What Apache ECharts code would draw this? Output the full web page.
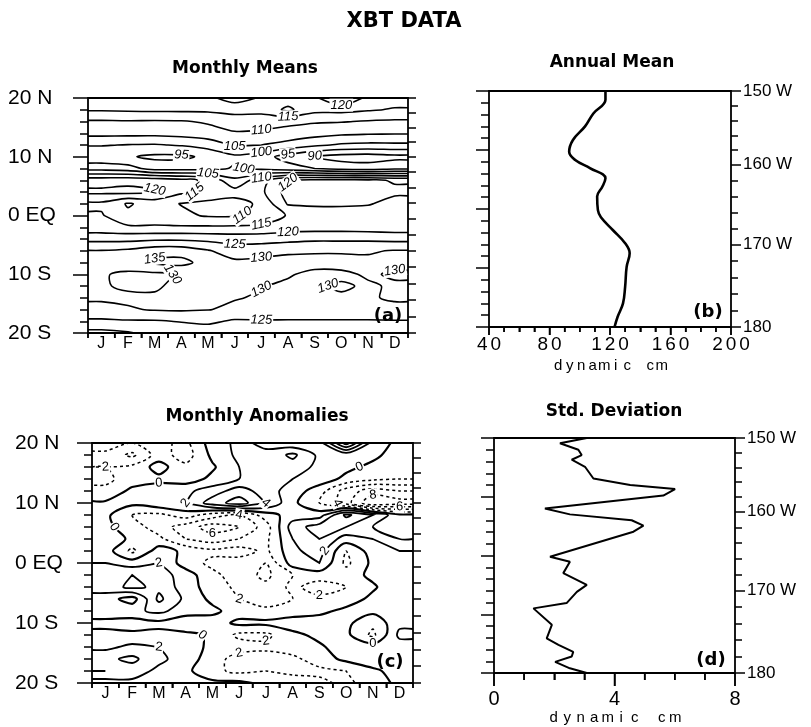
<!DOCTYPE html>
<html>
<head>
<meta charset="utf-8">
<script src="https://cdn.jsdelivr.net/npm/echarts@6/dist/echarts.min.js"></script>
<style>
  html, body { margin: 0; padding: 0; background: #fff; }
  #chart { width: 811px; height: 727px; }
</style>
</head>
<body>
<div id="chart"></div>
<script>
// ---------- axis vocabulary ----------
const months = ['J', 'F', 'M', 'A', 'M', 'J', 'J', 'A', 'S', 'O', 'N', 'D'];
const monthCentres = [0.5, 1.5, 2.5, 3.5, 4.5, 5.5, 6.5, 7.5, 8.5, 9.5, 10.5, 11.5];
const monthEdges = [0, 1, 2, 3, 4, 5, 6, 7, 8, 9, 10, 11, 12];
const latRows = [20, 18, 16, 14, 12, 10, 8, 6, 4, 2, 0, -2, -4, -6, -8, -10, -12, -14, -16, -18, -20];
const latTicks = [20, 10, 0, -10, -20];
const latNames = ['20 N', '10 N', '0 EQ', '10 S', '20 S'];
const lonNames = ['150 W', '160 W', '170 W', '180'];
const lonNameLat = [20, 7.5, -6, -20];   // latitude where the section crosses each meridian
const meanTicksMajor = [40, 80, 120, 160, 200];
const meanTicksMinor = [50, 60, 70, 90, 100, 110, 130, 140, 150, 170, 180, 190];
const sdTicksMajor = [0, 4, 8];
const sdTicksMinor = [1, 2, 3, 5, 6, 7];

// ---------- (a) monthly mean dynamic height (dyn cm), Jan..Dec per latitude ----------
const mean_20N = [117, 117.5, 117, 117, 119, 122, 119.5, 117.5, 119, 125.5, 118.5, 117];
const mean_18N = [115.5, 115.8, 116, 116, 116, 117, 117, 121, 116.5, 116.5, 115.5, 114.6];
const mean_16N = [109.4, 109.6, 109.4, 109.6, 110.6, 112, 111.5, 111, 110.5, 110.3, 109.6, 109.2];
const mean_14N = [106.5, 106.5, 106.5, 107, 108, 109.6, 109.4, 108.5, 107, 106, 105.6, 105.4];
const mean_12N = [100.3, 99.8, 99.6, 100.4, 102, 105.5, 105, 103, 101, 99.3, 98.8, 99];
const mean_10N = [96.5, 95.5, 94, 94, 96, 99, 97, 93, 89.5, 88, 87.5, 88.5];
const mean_8N  = [103, 102, 98, 98, 98.5, 100.5, 99, 97, 95, 93, 92.5, 94];
const mean_6N  = [118, 118.5, 118, 116.5, 114, 106, 113, 119.5, 121, 121.5, 121, 119.5];
const mean_4N  = [121, 121.5, 120.5, 116, 114, 112, 114, 122, 122.5, 122.5, 122, 121];
const mean_2N  = [114, 109.5, 112, 109.8, 108.5, 108, 111, 120.5, 121, 121, 120.5, 118];
const mean_EQ  = [115.5, 111, 112.5, 111, 109.5, 109.4, 111.5, 115.4, 116.5, 116.8, 116.5, 116];
const mean_2S  = [116.8, 115.8, 115.6, 115.6, 115.7, 115.8, 116.2, 117.5, 117.8, 117.8, 117.5, 117.2];
const mean_4S  = [123.5, 123.5, 124, 124, 123.5, 123, 123, 123.5, 124, 124, 124, 123.5];
const mean_6S  = [130.2, 131, 133, 133, 130.4, 127.5, 128, 129, 129.5, 129.5, 129.5, 130.3];
const mean_8S  = [132, 133, 136, 136.5, 133, 131, 131.5, 132, 131.5, 131.5, 131, 131];
const mean_10S = [130.5, 129, 129, 130.5, 131, 131, 131, 130.4, 129, 129.2, 130.5, 129.5];
const mean_12S = [130.5, 129.2, 129.5, 131, 131.5, 130.5, 130.2, 129.3, 129.5, 130.5, 129.5, 130.5];
const mean_14S = [130.5, 131, 130.5, 131, 131, 130.3, 129.5, 129.2, 129.2, 129.5, 129.6, 130.5];
const mean_16S = [129, 129.5, 130.4, 130.6, 130.2, 129, 128.5, 128.5, 128.5, 128.5, 128.5, 129];
const mean_18S = [124, 124.5, 124.5, 125.3, 126, 124.3, 124.6, 124.5, 124.5, 124.5, 124.5, 124.6];
const mean_20S = [118.5, 119.5, 121.5, 122, 122, 121, 123, 124, 124, 123.5, 123, 122];

// ---------- (c) monthly anomalies (dyn cm), Jan..Dec per latitude ----------
const anom_20N = [-1, -2, -1.5, -2.5, 1, 2.5, 1.5, 0.5, 1, 9, 1, -0.5];
const anom_18N = [-2.5, -4.5, -1, -3, 0.5, 2.5, 2.5, 4.5, 1.5, 0.5, 0.5, -1];
const anom_16N = [-2, -1.5, 0.8, -1.5, -0.3, 2, 2, 3, 1.5, 0.5, -0.5, -1];
const anom_14N = [-2.5, -1, -0.5, -1, 0.5, 2, 2.5, 2, 1, -0.5, -1.5, -2];
const anom_12N = [-1.5, 0.5, 1, 1.5, 3, 5, 3, 1, -1, -5, -7, -6];
const anom_10N = [0.3, 0.5, 1.5, 2, 5, 7, 4, 0.5, -2, -5, -10, -9];
const anom_8N  = [0.5, -2, -2.5, -1, -3, -4, -1, 1, 1, 6.5, 4, 0.5];
const anom_6N  = [0.5, -1, -3, -5, -7, -6, -3, 3, 5, 4, 2, 1];
const anom_4N  = [1.5, -0.5, -1.5, -4, -5, -4, -2.5, 2, 4, 1, 2, 2];
const anom_2N  = [1, -2.5, 1, -0.5, -1.5, -1, -2.5, 1.5, 3, -2, 1, 2];
const anom_EQ  = [2, 1, 2, -1, -2.5, -3, -4, 1, 2, -2.5, 0.5, 1.5];
const anom_2S  = [3, 4, 3, 1, -1.5, -3, -4.5, -2, -1, -1, 0.5, 0.5];
const anom_4S  = [3, 4.5, 3.5, 1, -1, -2.5, -3.5, -1.5, -3, -2, -0.3, 1.5];
const anom_6S  = [1, -1, 4.5, 1.5, -0.5, -2, -3, -2, -1.5, -1, 0.5, 1];
const anom_8S  = [1, 1.5, 2.5, 1, 0.5, -1, -1.5, -1, -0.5, 0.5, 0.5, 0.5];
const anom_10S = [-0.5, -1, -0.5, -1.5, -1, 0.5, 0.5, 1, 1, 0.5, -1.5, 1.5];
const anom_12S = [0.5, 0.5, 0.5, 0.5, -0.3, -2.5, -2.5, -0.5, 0.5, 0.5, -2.5, 2.5];
const anom_14S = [1.5, 2.5, 2, 1, -0.5, -1, -1.5, -1, -0.3, 1, 1, 1];
const anom_16S = [3.5, 4.5, 2.5, 1, -1, -3, -3, -2.5, -1, 0.5, 1.5, 1];
const anom_18S = [4, 3, 1.5, 0.5, -1.5, -2.5, -2, -2.5, -2.5, -2, -0.5, 1];
const anom_20S = [1, 1.5, 0.5, 0.5, 0.5, 0.5, -0.5, -1, -1.5, -2.5, -1, 0.5];

// ---------- (b) annual mean profile ----------
const annualLat  = [20, 18.5, 16.2, 14, 11.7, 9.7, 8.3, 6.9, 5.2, 3.8, 2.1, -0.2, -1.4, -3.6, -5.8, -7.5, -9.8, -13.2, -16, -18.3, -20];
const annualMean = [117, 117, 109, 103.5, 95.5, 93, 97, 107, 117, 115, 111.5, 112, 114, 122, 130, 133, 131, 130, 128.6, 125, 123];

// ---------- (d) standard deviation profile ----------
const sdLat   = [20, 19.1, 18, 17.1, 16.3, 15.1, 13.1, 12, 11.3, 10.2, 8, 7, 6, 5.1, 4.05, -0.2, -1.05, -3, -5, -6.2, -8.1, -9, -11.8, -14.1, -15.2, -16.4, -17.2, -18.1, -19.2, -20];
const sdValue = [3.08, 2.19, 2.8, 2.91, 2.58, 3.02, 3.3, 4.52, 6.01, 5.62, 1.69, 2.52, 4.57, 4.96, 4.63, 1.86, 2.52, 2.3, 3.08, 2.75, 2.41, 1.31, 1.92, 1.75, 2.14, 2.63, 2.58, 2.03, 2.52, 3.08];

// ---------- contour levels ----------
const meanLevels = [85, 90, 95, 100, 105, 110, 115, 120, 125, 130, 135, 140];
const anomLevels = [-12, -10, -8, -6, -4, -2, 0, 2, 4, 6, 8, 10];

const meanField = [mean_20N, mean_18N, mean_16N, mean_14N, mean_12N, mean_10N, mean_8N, mean_6N, mean_4N, mean_2N,
  mean_EQ, mean_2S, mean_4S, mean_6S, mean_8S, mean_10S, mean_12S, mean_14S, mean_16S, mean_18S, mean_20S];
const anomField = [anom_20N, anom_18N, anom_16N, anom_14N, anom_12N, anom_10N, anom_8N, anom_6N, anom_4N, anom_2N,
  anom_EQ, anom_2S, anom_4S, anom_6S, anom_8S, anom_10S, anom_12S, anom_14S, anom_16S, anom_18S, anom_20S];

// Longitude ticks every 2 degrees between the labelled meridians
const lonTickLat = [];
for (let k = 0; k < lonNameLat.length - 1; k++) {
  for (let s = 0; s < 5; s++) lonTickLat.push(lonNameLat[k] + (lonNameLat[k + 1] - lonNameLat[k]) * s / 5);
}
lonTickLat.push(lonNameLat[lonNameLat.length - 1]);

// Month-centred samples, extended to the year edges with the end values
const fieldX = [0].concat(monthCentres, [12]);
function padEdges(rows) { return rows.map(r => [r[0]].concat(r, [r[r.length - 1]])); }

// ---------- marching squares: chains of [month, lat] points for one level ----------
function contourChains(V, xs, ys, level) {
  const R = V.length, C = V[0].length;
  const pt = {};
  const segs = [];
  function hKey(r, c) {
    const k = 'h' + r + '_' + c;
    if (!(k in pt)) {
      const a = V[r][c], b = V[r][c + 1], t = (level - a) / (b - a);
      pt[k] = [xs[c] + t * (xs[c + 1] - xs[c]), ys[r]];
    }
    return k;
  }
  function vKey(r, c) {
    const k = 'v' + r + '_' + c;
    if (!(k in pt)) {
      const a = V[r][c], b = V[r + 1][c], t = (level - a) / (b - a);
      pt[k] = [xs[c], ys[r] + t * (ys[r + 1] - ys[r])];
    }
    return k;
  }
  for (let r = 0; r < R - 1; r++) {
    for (let c = 0; c < C - 1; c++) {
      const tl = V[r][c], tr = V[r][c + 1], br = V[r + 1][c + 1], bl = V[r + 1][c];
      const idx = (tl >= level ? 8 : 0) | (tr >= level ? 4 : 0) | (br >= level ? 2 : 0) | (bl >= level ? 1 : 0);
      if (idx === 0 || idx === 15) continue;
      const T = () => hKey(r, c), B = () => hKey(r + 1, c), L = () => vKey(r, c), Rt = () => vKey(r, c + 1);
      const ctr = (tl + tr + br + bl) / 4;
      switch (idx) {
        case 1: case 14: segs.push([L(), B()]); break;
        case 2: case 13: segs.push([B(), Rt()]); break;
        case 3: case 12: segs.push([L(), Rt()]); break;
        case 4: case 11: segs.push([T(), Rt()]); break;
        case 6: case 9: segs.push([T(), B()]); break;
        case 7: case 8: segs.push([L(), T()]); break;
        case 5:
          if (ctr >= level) { segs.push([L(), T()]); segs.push([B(), Rt()]); }
          else { segs.push([T(), Rt()]); segs.push([L(), B()]); }
          break;
        case 10:
          if (ctr >= level) { segs.push([T(), Rt()]); segs.push([L(), B()]); }
          else { segs.push([L(), T()]); segs.push([B(), Rt()]); }
          break;
      }
    }
  }
  const adj = {};
  segs.forEach((s, i) => {
    (adj[s[0]] = adj[s[0]] || []).push(i);
    (adj[s[1]] = adj[s[1]] || []).push(i);
  });
  const used = new Array(segs.length).fill(false);
  function walk(start) {
    const keys = [start];
    let cur = start;
    for (;;) {
      let next = null;
      for (const i of adj[cur]) {
        if (!used[i]) { used[i] = true; next = segs[i][0] === cur ? segs[i][1] : segs[i][0]; break; }
      }
      if (next === null) break;
      keys.push(next);
      cur = next;
    }
    return keys;
  }
  const chains = [];
  for (const k in adj) if (adj[k].length === 1 && !used[adj[k][0]]) chains.push(walk(k));
  segs.forEach((s, i) => { if (!used[i]) chains.push(walk(s[0])); });
  return chains.map(ks => ({ closed: ks.length > 2 && ks[0] === ks[ks.length - 1], pts: ks.map(k => pt[k]) }));
}

// ---------- custom-series renderer for a contoured field ----------
function contourRenderer(field, levels, look) {
  const V = padEdges(field);
  const sets = levels.map(L => ({ level: L, chains: contourChains(V, fieldX, latRows, L) }));
  return function (params, api) {
    if (params.dataIndex !== 0) return;
    const cs = params.coordSys;
    const lines = [], labels = [], placed = [];
    for (const set of sets) {
      const st = look.lineStyle(set.level);
      for (const ch of set.chains) {
        const pts = ch.pts.map(p => api.coord(p));
        const drawPts = ch.closed ? pts.slice(0, -1) : pts;
        if (drawPts.length < 2) continue;
        lines.push({
          type: ch.closed ? 'polygon' : 'polyline',
          shape: { points: drawPts, smooth: look.smooth },
          style: Object.assign({ fill: 'none', stroke: '#000' }, st),
          silent: true
        });
        // inline value label
        let total = 0;
        const cum = [0];
        for (let i = 1; i < pts.length; i++) {
          total += Math.hypot(pts[i][0] - pts[i - 1][0], pts[i][1] - pts[i - 1][1]);
          cum.push(total);
        }
        if (total < look.minLabelLen) continue;
        const ok = (i) => {
          const p = pts[i];
          if (p[0] < cs.x + 12 || p[0] > cs.x + cs.width - 12 || p[1] < cs.y + 7 || p[1] > cs.y + cs.height - 7) return false;
          const a = pts[Math.max(i - 1, 0)], b = pts[Math.min(i + 1, pts.length - 1)];
          let u = Math.atan2(b[1] - a[1], b[0] - a[0]);
          if (u > Math.PI / 2) u -= Math.PI;
          if (u < -Math.PI / 2) u += Math.PI;
          if (Math.abs(u) > look.maxAngle) return false;
          for (const q of placed) if (Math.hypot(q[0] - p[0], q[1] - p[1]) < look.labelGap) return false;
          return u;
        };
        let chosen = -1, ang = 0;
        const order = [];
        if (look.targets) {
          for (const f of look.targets) {
            const tx = cs.x + cs.width * f;
            const idx = pts.map((p, i) => i).sort((i, j) => Math.abs(pts[i][0] - tx) - Math.abs(pts[j][0] - tx));
            order.push(...idx.slice(0, 4));
          }
        } else {
          for (const f of [0.5, 0.3, 0.7, 0.15, 0.85]) {
            const d = total * f;
            let i = cum.findIndex(v => v >= d);
            if (i < 0) i = pts.length - 1;
            order.push(i);
          }
        }
        for (const i of order) {
          const u = ok(i);
          if (u !== false) { chosen = i; ang = u; break; }
        }
        if (chosen < 0) continue;
        const p = pts[chosen];
        placed.push(p);
        labels.push({
          type: 'text',
          x: p[0], y: p[1],
          rotation: -ang,
          silent: true,
          z2: 10,
          style: {
            text: look.labelText(set.level),
            font: look.labelFont,
            fill: '#000',
            align: 'center', verticalAlign: 'middle',
            textAlign: 'center', textVerticalAlign: 'middle',
            backgroundColor: '#fff',
            padding: [0, 1]
          }
        });
      }
    }
    return { type: 'group', children: lines.concat(labels) };
  };
}

// ---------- bottom-edge tick marks, placed with the x scale ----------
function bottomTicks(xIdx, yIdx, major, minor, majorLen, minorLen) {
  return {
    type: 'custom', coordinateSystem: 'cartesian2d', xAxisIndex: xIdx, yAxisIndex: yIdx,
    clip: false, silent: true, data: [[0, 0]],
    renderItem: function (params, api) {
      const kids = [];
      const add = (v, len) => {
        const p = api.coord([v, -20]);
        kids.push({ type: 'line', shape: { x1: p[0], y1: p[1], x2: p[0], y2: p[1] + len },
          style: { stroke: '#000', lineWidth: 1.5 }, silent: true });
      };
      major.forEach(v => add(v, majorLen));
      minor.forEach(v => add(v, minorLen));
      return { type: 'group', children: kids };
    }
  };
}

// ---------- axis helpers ----------
const FONT = 'Liberation Sans';
const INK = '#000';
const tickStyle = { color: INK, width: 1.5 };
function hiddenLine() { return { show: false, onZero: false }; }
// x axes sit on the bottom edge: their zero test uses a helper y scale that never crosses zero
function bottomLine(helperY) { return { show: false, onZero: true, onZeroAxisIndex: helperY }; }

function spaced(str, cls) {
  return str.split('').map(ch => '{' + cls + '|' + ch + '}').join('');
}

function monthAxis(gi, helperY) {
  return {
    gridIndex: gi, type: 'value', min: 0, max: 12, position: 'bottom',
    axisLine: bottomLine(helperY), splitLine: { show: false },
    axisTick: { show: true, customValues: monthEdges, length: 5, lineStyle: tickStyle },
    axisLabel: {
      show: true, customValues: monthCentres, margin: 3, color: INK, fontFamily: FONT, fontSize: 16,
      formatter: v => months[Math.floor(v)]
    }
  };
}

function latLeftAxis(gi, majorLen, minorLen, labelMargin) {
  return {
    gridIndex: gi, type: 'value', min: -20, max: 20, interval: 10, position: 'left',
    axisLine: hiddenLine(), splitLine: { show: false },
    axisTick: { show: true, length: majorLen, lineStyle: tickStyle },
    minorTick: { show: true, splitNumber: 5, length: minorLen, lineStyle: tickStyle },
    axisLabel: labelMargin == null ? { show: false } : {
      show: true, margin: labelMargin, align: 'left', color: INK, fontFamily: FONT, fontSize: 21,
      formatter: v => latNames[latTicks.indexOf(Math.round(v))] || ''
    }
  };
}

function lonRightAxis(gi, values, len, withLabels) {
  return {
    gridIndex: gi, type: 'value', min: -20, max: 20, position: 'right',
    axisLine: hiddenLine(), splitLine: { show: false },
    axisTick: { show: true, customValues: values, length: len, lineStyle: tickStyle },
    axisLabel: withLabels ? {
      show: true, customValues: lonNameLat, margin: 12, align: 'left', color: INK, fontFamily: FONT, fontSize: 17,
      formatter: v => {
        let best = 0;
        lonNameLat.forEach((l, i) => { if (Math.abs(l - v) < Math.abs(lonNameLat[best] - v)) best = i; });
        return lonNames[best];
      }
    } : { show: false }
  };
}

function helperAxis(gi) {
  return { gridIndex: gi, type: 'value', min: 1, max: 2, position: 'right', show: false };
}

function profileAxis(gi, helperY, min, max, interval, majorLen, minorLen, labelMargin, digitW, digitSize, nameGap, nameW) {
  return {
    gridIndex: gi, type: 'value', min: min, max: max, interval: interval, position: 'bottom',
    axisLine: bottomLine(helperY), splitLine: { show: false },
    axisTick: { show: true, length: majorLen, lineStyle: tickStyle },
    minorTick: { show: true, splitNumber: 4, length: minorLen, lineStyle: tickStyle },
    axisLabel: {
      show: true, margin: labelMargin,
      formatter: v => spaced(String(v), 'n'),
      rich: { n: { width: digitW, align: 'center', fontSize: digitSize, fontFamily: FONT, color: INK } }
    },
    name: spaced('dynamic cm', 's'),
    nameLocation: 'middle', nameGap: nameGap,
    nameTextStyle: { rich: { s: { width: nameW, align: 'center', fontSize: 15, fontFamily: FONT, color: INK } } }
  };
}

// ---------- panel geometry ----------
const grids = [
  { left: 88, top: 98, width: 320, height: 235 },   // (a)
  { left: 489, top: 91, width: 242, height: 236 },  // (b)
  { left: 92, top: 443, width: 321, height: 240 },  // (c)
  { left: 494, top: 438, width: 241, height: 235 }  // (d)
].map(g => Object.assign({ show: true, borderColor: INK, borderWidth: 1.8, backgroundColor: 'transparent' }, g));

const TITLE_FONT = 'bold 17px "DejaVu Sans"';
function text(x, y, str, font) {
  return {
    type: 'text', x: x, y: y, silent: true,
    style: { text: str, font: font, fill: INK, align: 'center', verticalAlign: 'middle', textAlign: 'center', textVerticalAlign: 'middle' }
  };
}

const meanLook = {
  smooth: 0.3,
  lineStyle: () => ({ lineWidth: 1.6 }),
  labelText: L => String(L),
  labelFont: 'italic 13px "Liberation Sans"',
  minLabelLen: 45, labelGap: 20, maxAngle: 1.0,
  targets: [0.55, 0.3, 0.8, 0.15]
};
const anomLook = {
  smooth: 0.3,
  lineStyle: L => L < 0 ? { lineWidth: 1.5, lineDash: [3, 3] } : { lineWidth: L === 0 ? 2.2 : 1.8 },
  labelText: L => String(Math.abs(L)),
  labelFont: '13px "Liberation Sans"',
  minLabelLen: 70, labelGap: 28, maxAngle: 1.1,
  targets: null
};

const option = {
  animation: false,
  backgroundColor: '#fff',
  grid: grids,
  xAxis: [
    monthAxis(0, 10),
    profileAxis(1, 11, 40, 200, 40, 8, 5, 8, 13.5, 19, 31, 11.5),
    monthAxis(2, 12),
    profileAxis(3, 13, 0, 8, 4, 13, 7, 16, 13, 20, 36, 13.5)
  ],
  yAxis: [
    latLeftAxis(0, 15, 8, 80),
    lonRightAxis(0, lonTickLat, 8, false),
    latLeftAxis(1, 13, 8, null),
    lonRightAxis(1, lonTickLat, 7, false),
    lonRightAxis(1, lonNameLat, 10, true),
    latLeftAxis(2, 15, 8, 77),
    lonRightAxis(2, lonTickLat, 8, false),
    latLeftAxis(3, 13, 8, null),
    lonRightAxis(3, lonTickLat, 7, false),
    lonRightAxis(3, lonNameLat, 10, true),
    helperAxis(0), helperAxis(1), helperAxis(2), helperAxis(3)
  ],
  series: [
    {
      type: 'custom', name: 'Monthly Means', coordinateSystem: 'cartesian2d',
      xAxisIndex: 0, yAxisIndex: 0, clip: true, silent: true,
      data: [[0, 0]],
      renderItem: contourRenderer(meanField, meanLevels, meanLook)
    },
    {
      type: 'line', name: 'Annual Mean', xAxisIndex: 1, yAxisIndex: 2,
      data: annualMean.map((v, i) => [v, annualLat[i]]),
      smooth: 0.4, showSymbol: false, silent: true,
      lineStyle: { color: INK, width: 2.6 }
    },
    {
      type: 'custom', name: 'Monthly Anomalies', coordinateSystem: 'cartesian2d',
      xAxisIndex: 2, yAxisIndex: 5, clip: true, silent: true,
      data: [[0, 0]],
      renderItem: contourRenderer(anomField, anomLevels, anomLook)
    },
    {
      type: 'line', name: 'Std. Deviation', xAxisIndex: 3, yAxisIndex: 7,
      data: sdValue.map((v, i) => [v, sdLat[i]]),
      showSymbol: false, silent: true,
      lineStyle: { color: INK, width: 2 }
    },
    bottomTicks(0, 0, monthEdges, [], 5, 0),
    bottomTicks(1, 2, meanTicksMajor, meanTicksMinor, 8, 5),
    bottomTicks(2, 5, monthEdges, [], 5, 0),
    bottomTicks(3, 7, sdTicksMajor, sdTicksMinor, 13, 7)
  ],
  graphic: [
    text(404, 22, 'XBT DATA', 'bold 21px "DejaVu Sans"'),
    text(245, 69, 'Monthly Means', TITLE_FONT),
    text(612, 63, 'Annual Mean', TITLE_FONT),
    text(257, 417, 'Monthly Anomalies', TITLE_FONT),
    text(614, 412, 'Std. Deviation', TITLE_FONT),
    text(388, 316, '(a)', 'bold 18px "DejaVu Sans"'),
    text(708, 312, '(b)', 'bold 18px "DejaVu Sans"'),
    text(390, 662, '(c)', 'bold 18px "DejaVu Sans"'),
    text(711, 660, '(d)', 'bold 18px "DejaVu Sans"')
  ]
};

const chart = echarts.init(document.getElementById('chart'), null, { renderer: 'canvas' });
chart.setOption(option);
</script>
</body>
</html>
